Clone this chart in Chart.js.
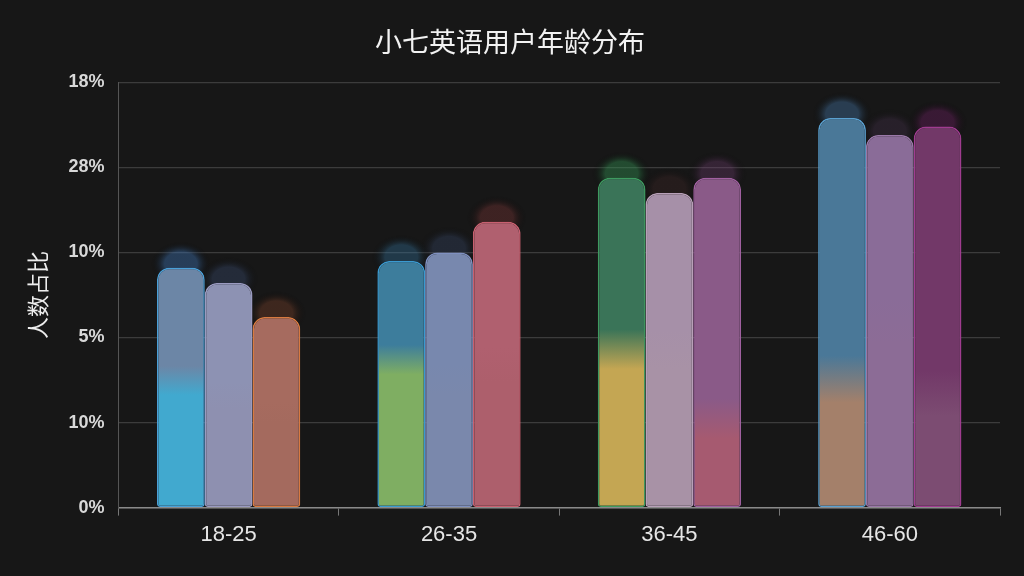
<!DOCTYPE html>
<html>
<head>
<meta charset="utf-8">
<script src="https://cdn.jsdelivr.net/npm/chart.js@4"></script>
<style>
  html, body { margin: 0; padding: 0; background: #171717; }
  #wrap { width: 1024px; height: 576px; }
</style>
</head>
<body>
<div id="wrap"><canvas id="ageChart"></canvas></div>
<script>
// categories and values (in grid steps of 5)
var ageGroups = ['18-25', '26-35', '36-45', '46-60'];
var seriesA = [14.1, 14.5, 19.4, 22.9];
var seriesB = [13.2, 15.0, 18.5, 21.9];
var seriesC = [11.2, 16.8, 19.4, 22.4];
// tick labels as printed on the original, bottom to top
var yTickLabels = ['0%', '10%', '5%', '10%', '28%', '18%'];

// per-bar colours: top, bottom, and where the blend sits (fraction from bottom)
var topA = ['#6c86a6', '#3d7d9c', '#3a7458', '#4a7898'];
var botA = ['#41a9cf', '#7fae62', '#c4a653', '#a4806a'];
var mixA = [0.53, 0.6, 0.48, 0.33];
var topB = ['#8d92b3', '#7888ae', '#a690a8', '#8a6c98'];
var botB = ['#8e90b0', '#7a88ac', '#a892a6', '#8c6c96'];
var mixB = [0.5, 0.5, 0.5, 0.5];
var topC = ['#a66b5f', '#b0606f', '#8a5a88', '#723868'];
var botC = ['#a46a5e', '#ad5f6c', '#a65a70', '#7c4c72'];
var mixC = [0.5, 0.5, 0.27, 0.3];
var edgeA = ['#4aa0d8', '#3a9ad0', '#3e9a60', '#5aa0d0'];
var edgeB = ['#9a9ac0', '#7f90c0', '#b8a0b8', '#9a78a8'];
var edgeC = ['#d87a40', '#c86070', '#a060a0', '#a03c90'];
// halo colour above each bar
var glowA = ['rgba(60,110,170,0.45)', 'rgba(50,110,150,0.4)', 'rgba(50,140,80,0.45)', 'rgba(70,120,170,0.4)'];
var glowB = ['rgba(60,80,120,0.35)', 'rgba(60,80,120,0.3)', 'rgba(70,40,40,0.3)', 'rgba(90,60,100,0.25)'];
var glowC = ['rgba(110,60,40,0.45)', 'rgba(110,50,50,0.45)', 'rgba(110,60,110,0.35)', 'rgba(100,30,90,0.45)'];

function barFill(tops, bots, mixes) {
    return function(ctx) {
        var chart = ctx.chart;
        var yScale = chart.scales.y;
        var i = ctx.dataIndex;
        if (!yScale || ctx.raw === undefined || i === undefined) return tops[0];
        var yTop = yScale.getPixelForValue(ctx.raw);
        var yBot = yScale.getPixelForValue(0);
        if (!isFinite(yTop) || !isFinite(yBot) || yTop === yBot) return tops[i];
        var g = chart.ctx.createLinearGradient(0, yBot, 0, yTop);
        var m = mixes[i];
        g.addColorStop(0, bots[i]);
        g.addColorStop(Math.max(0, m - 0.06), bots[i]);
        g.addColorStop(Math.min(1, m + 0.06), tops[i]);
        g.addColorStop(1, tops[i]);
        return g;
    };
}

// soft halo drawn behind the top of each bar
var glowPlugin = {
    id: 'glow',
    beforeDatasetsDraw: function(chart) {
        var c = chart.ctx;
        chart.data.datasets.forEach(function(ds, di) {
            var meta = chart.getDatasetMeta(di);
            meta.data.forEach(function(bar, i) {
                var cy = bar.y - 4;
                var rx = bar.width * 0.62;
                var ry = 22;
                c.save();
                c.translate(bar.x, cy);
                c.scale(rx / ry, 1);
                var g = c.createRadialGradient(0, 0, 0, 0, 0, ry);
                g.addColorStop(0, ds.glow[i]);
                g.addColorStop(0.55, ds.glow[i]);
                g.addColorStop(1, 'rgba(0,0,0,0)');
                c.fillStyle = g;
                c.beginPath();
                c.arc(0, 0, ry, 0, Math.PI * 2);
                c.fill();
                c.restore();
            });
        });
    }
};

document.addEventListener('DOMContentLoaded', function() {
    var ctx = document.getElementById('ageChart').getContext('2d');
    var ageChart = new Chart(ctx, {
        type: 'bar',
        data: {
            labels: ageGroups,
            datasets: [
                { data: seriesA, backgroundColor: barFill(topA, botA, mixA), borderColor: edgeA, glow: glowA },
                { data: seriesB, backgroundColor: barFill(topB, botB, mixB), borderColor: edgeB, glow: glowB },
                { data: seriesC, backgroundColor: barFill(topC, botC, mixC), borderColor: edgeC, glow: glowC }
            ]
        },
        options: {
            responsive: true,
            maintainAspectRatio: false,
            animation: false,
            layout: { padding: { left: 20, right: 24, top: 14, bottom: 22 } },
            datasets: {
                bar: {
                    categoryPercentage: 0.65,
                    barPercentage: 1.0,
                    borderWidth: 1.5,
                    borderRadius: { topLeft: 12, topRight: 12, bottomLeft: 3, bottomRight: 3 },
                    borderSkipped: false
                }
            },
            plugins: {
                legend: { display: false },
                tooltip: { enabled: false },
                title: {
                    display: true,
                    text: '小七英语用户年龄分布',
                    color: '#f2f2f2',
                    font: { family: '"Noto Sans CJK SC", "Noto Sans", sans-serif', size: 27, weight: 'normal' },
                    padding: { top: 12, bottom: 24 }
                }
            },
            scales: {
                x: {
                    grid: { drawOnChartArea: false, drawTicks: true, tickLength: 8, color: '#777' },
                    border: { color: '#8a8a8a', width: 1.5 },
                    ticks: {
                        color: '#e6e6e6',
                        padding: 6,
                        font: { family: '"Liberation Sans", Arial, sans-serif', size: 22 }
                    }
                },
                y: {
                    min: 0,
                    max: 25,
                    grid: { color: '#3c3c3c', lineWidth: 1.2, drawTicks: false },
                    border: { color: '#555', width: 1 },
                    ticks: {
                        stepSize: 5,
                        padding: 14,
                        color: '#d8d8d8',
                        font: { family: '"Liberation Sans", Arial, sans-serif', size: 18, weight: 'bold' },
                        callback: function(value) {
                            return yTickLabels[Math.round(value / 5)];
                        }
                    },
                    title: {
                        display: true,
                        text: '人数占比',
                        color: '#eeeeee',
                        padding: { bottom: 4 },
                        font: { family: '"Noto Sans CJK SC", sans-serif', size: 22 }
                    }
                }
            }
        },
        plugins: [glowPlugin]
    });
});
</script>
</body>
</html>
